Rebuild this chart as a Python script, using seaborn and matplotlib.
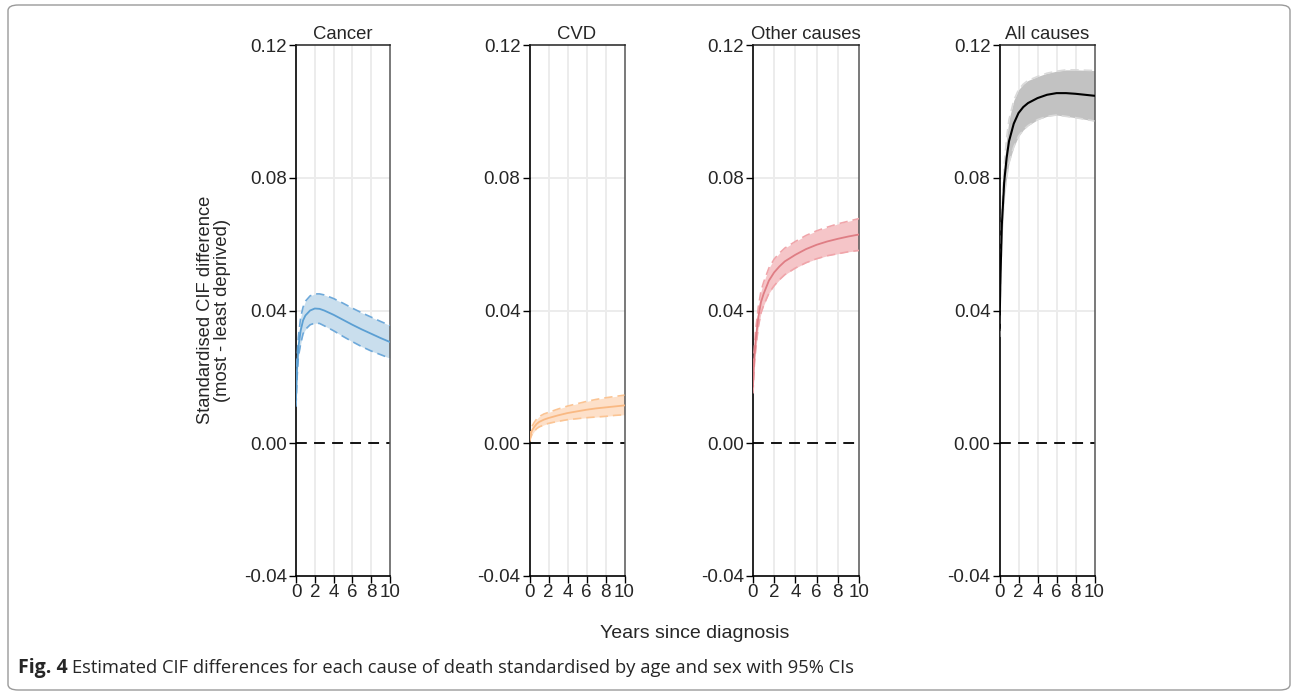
import numpy as np
import pandas as pd
import matplotlib
matplotlib.use("Agg")
import matplotlib.pyplot as plt
from matplotlib.patches import FancyBboxPatch
import seaborn as sns

# Years since diagnosis at which the standardised CIF differences are reported
years = [0, 0.1, 0.25, 0.5, 0.75, 1, 1.5, 2, 2.5, 3, 4, 5, 6, 7, 8, 9, 10]

causes = ["Cancer", "CVD", "Other causes", "All causes"]

cancer_est = [0.013, 0.022, 0.029, 0.034, 0.037, 0.0385, 0.0400, 0.0406, 0.0405, 0.0400,
              0.0387, 0.0372, 0.0357, 0.0343, 0.0330, 0.0317, 0.0305]
cancer_lo = [0.011, 0.019, 0.026, 0.030, 0.033, 0.0343, 0.0357, 0.0362, 0.0361, 0.0354,
             0.0339, 0.0322, 0.0306, 0.0291, 0.0278, 0.0267, 0.0256]
cancer_hi = [0.015, 0.025, 0.032, 0.038, 0.041, 0.0428, 0.0444, 0.0450, 0.0450, 0.0447,
             0.0436, 0.0422, 0.0407, 0.0393, 0.0380, 0.0367, 0.0355]

cvd_est = [0.0008, 0.0025, 0.0038, 0.0049, 0.0058, 0.0064, 0.0071, 0.0076, 0.0080, 0.0084,
           0.0091, 0.0096, 0.0101, 0.0105, 0.0108, 0.0111, 0.0114]
cvd_lo = [0.0004, 0.0015, 0.0026, 0.0036, 0.0044, 0.0049, 0.0055, 0.0060, 0.0063, 0.0066,
          0.0071, 0.0074, 0.0077, 0.0079, 0.0081, 0.0084, 0.0086]
cvd_hi = [0.0012, 0.0035, 0.0050, 0.0063, 0.0073, 0.0080, 0.0088, 0.0093, 0.0098, 0.0103,
          0.0112, 0.0119, 0.0126, 0.0132, 0.0137, 0.0141, 0.0145]

other_est = [0.017, 0.025, 0.031, 0.038, 0.0425, 0.045, 0.049, 0.0515, 0.0533, 0.0548,
             0.0568, 0.0585, 0.0598, 0.0608, 0.0616, 0.0623, 0.0629]
other_lo = [0.015, 0.0225, 0.028, 0.035, 0.0392, 0.0415, 0.0452, 0.0475, 0.0493, 0.0508,
            0.0528, 0.0544, 0.0556, 0.0565, 0.0571, 0.0577, 0.0581]
other_hi = [0.019, 0.0275, 0.034, 0.041, 0.0458, 0.0485, 0.0528, 0.0555, 0.0573, 0.0588,
            0.0608, 0.0626, 0.0640, 0.0651, 0.0661, 0.0669, 0.0677]

all_est = [0.034, 0.050, 0.066, 0.079, 0.086, 0.091, 0.0963, 0.0995, 0.1013, 0.1025,
           0.1040, 0.1050, 0.1055, 0.1055, 0.1053, 0.1050, 0.1047]
all_lo = [0.032, 0.047, 0.062, 0.074, 0.080, 0.0845, 0.0893, 0.0925, 0.0944, 0.0957,
          0.0975, 0.0985, 0.0989, 0.0985, 0.0981, 0.0976, 0.0971]
all_hi = [0.036, 0.053, 0.070, 0.084, 0.092, 0.0975, 0.1033, 0.1065, 0.1082, 0.1093,
          0.1105, 0.1115, 0.1121, 0.1125, 0.1125, 0.1124, 0.1123]

y_ticks = [-0.04, 0.00, 0.04, 0.08, 0.12]
y_tick_labels = ["-0.04", "0.00", "0.04", "0.08", "0.12"]
x_ticks = [0, 2, 4, 6, 8, 10]

series = {
    "Cancer": (cancer_est, cancer_lo, cancer_hi),
    "CVD": (cvd_est, cvd_lo, cvd_hi),
    "Other causes": (other_est, other_lo, other_hi),
    "All causes": (all_est, all_lo, all_hi),
}

# line colour, band colour, bound colour, line width
styles = {
    "Cancer": ("#5b9fd3", "#c9deed", "#6ea9da", 1.3),
    "CVD": ("#f9b983", "#fde0c9", "#fbc493", 1.3),
    "Other causes": ("#df7d84", "#f5c5c8", "#f0a5aa", 1.3),
    "All causes": ("#000000", "#c2c2c2", "#dadada", 1.5),
}

sns.set_theme(style="white")
plt.rcParams["font.family"] = ["Liberation Sans", "DejaVu Sans"]

W, H = 1294, 695
fig = plt.figure(figsize=(W / 100, H / 100), dpi=100)

# axes boxes in pixels: left, right
boxes = {
    "Cancer": (296, 390),
    "CVD": (529.5, 624.5),
    "Other causes": (753, 859),
    "All causes": (999.5, 1094.5),
}
top_px, bot_px = 45, 576

for cause in causes:
    l, r = boxes[cause]
    ax = fig.add_axes([l / W, 1 - bot_px / H, (r - l) / W, (bot_px - top_px) / H])
    est, lo, hi = series[cause]
    lc, fc, bc, lw = styles[cause]

    # light grid
    for gx in [2, 4, 6, 8]:
        ax.axvline(gx, color="#ececec", lw=1.4, zorder=0)
    for gy in [0.04, 0.08]:
        ax.axhline(gy, color="#ececec", lw=1.4, zorder=0)
    ax.axhline(0, color="black", lw=1.3, ls=(0, (6, 4)), zorder=1)

    df = pd.DataFrame({"years": years, "est": est, "lo": lo, "hi": hi})
    ax.fill_between(df["years"], df["lo"], df["hi"], color=fc, lw=0, zorder=2)
    sns.lineplot(data=df, x="years", y="lo", ax=ax, color=bc, lw=1.2,
                 linestyle=(0, (5, 3)), zorder=3)
    sns.lineplot(data=df, x="years", y="hi", ax=ax, color=bc, lw=1.2,
                 linestyle=(0, (5, 3)), zorder=3)
    sns.lineplot(data=df, x="years", y="est", ax=ax, color=lc, lw=lw, zorder=4)

    ax.set_xlim(0, 10)
    ax.set_ylim(-0.04, 0.12)
    ax.set_xticks(x_ticks)
    ax.set_xticklabels([str(v) for v in x_ticks])
    ax.set_yticks(y_ticks)
    ax.set_yticklabels(y_tick_labels)
    ax.set_xlabel("")
    ax.set_ylabel("")
    ax.set_title(cause, fontsize=13.3, pad=4)
    ax.tick_params(axis="both", which="both", direction="out", length=5, width=1,
                   labelsize=13.5, pad=1.5, left=True, bottom=True, color="black")
    ax.tick_params(axis="x", pad=1)
    for side in ["left", "bottom"]:
        ax.spines[side].set_color("black")
        ax.spines[side].set_linewidth(1.2)
    ax.spines["top"].set_color("#222222")
    ax.spines["top"].set_linewidth(1.1)
    ax.spines["right"].set_color("#555555")
    ax.spines["right"].set_linewidth(1.1)
    ax.set_facecolor("white")

fig.text(214 / W, 1 - 310 / H, "Standardised CIF difference\n(most - least deprived)",
         rotation=90, ha="center", va="center", fontsize=13.2, linespacing=1.0)
fig.text(695 / W, 1 - 633 / H, "Years since diagnosis", ha="center", va="center",
         fontsize=14)

# outer panel frame
frame = FancyBboxPatch((8 / W, 5 / H), (1290 - 8) / W, (690 - 5) / H,
                       boxstyle="round,pad=0,rounding_size=0.008",
                       transform=fig.transFigure, fill=False,
                       edgecolor="#9a9a9a", lw=1.0)
fig.patches.append(frame)

cap_y = 1 - 668 / H
t1 = fig.text(18 / W, cap_y, "Fig. 4", fontsize=14, fontweight="bold",
              family=["Open Sans", "DejaVu Sans"], va="center", ha="left")
fig.canvas.draw()
bb = t1.get_window_extent()
fig.text((bb.x1 + 4) / W, cap_y,
         "Estimated CIF differences for each cause of death standardised by age and sex with 95% CIs",
         fontsize=13.2, family=["Open Sans", "DejaVu Sans"], va="center", ha="left")

fig.savefig("out.png", dpi=100)
